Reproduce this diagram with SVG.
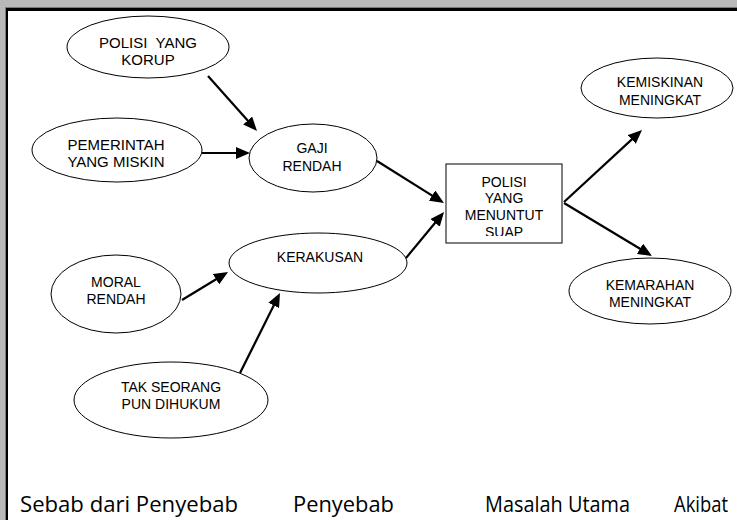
<svg xmlns="http://www.w3.org/2000/svg" width="737" height="520" viewBox="0 0 737 520">
<style>
.n ellipse, .n rect { fill: #fff; stroke: #000; stroke-width: 1; }
.t { font-family: "Liberation Sans", Arial, sans-serif; font-size: 14px; fill: #000; text-anchor: middle; }
.t15 { font-size: 15px; }
.c line { stroke: #000; stroke-width: 2.2; marker-end: url(#ah); }
.lbl { font-family: "Open Sans", "DejaVu Sans", sans-serif; font-size: 21px; fill: #000; }
</style>
<defs>
<marker id="ah" markerUnits="userSpaceOnUse" markerWidth="14" markerHeight="12" viewBox="0 0 14 12" refX="2" refY="6" orient="auto">
<path d="M0,0 L14,6 L0,12 z" fill="#000"/>
</marker>
<clipPath id="boxclip"><rect x="447" y="165" width="114" height="71"/></clipPath>
</defs>
<rect x="0" y="0" width="737" height="520" fill="#b9b9b9"/>
<rect x="5" y="7" width="732" height="513" fill="#7a7a7a"/>
<rect x="6" y="8" width="731" height="512" fill="#000"/>
<rect x="8" y="11" width="729" height="509" fill="#fff"/>

<g id="polisi-korup" class="n">
<ellipse cx="148" cy="47" rx="81" ry="31"/>
<text class="t t15" x="148" y="48" xml:space="preserve">POLISI  YANG</text>
<text class="t t15" x="148" y="65">KORUP</text>
</g>
<g id="pemerintah" class="n">
<ellipse cx="117" cy="150" rx="85" ry="32"/>
<text class="t t15" x="116" y="150">PEMERINTAH</text>
<text class="t t15" x="116" y="167">YANG MISKIN</text>
</g>
<g id="gaji" class="n">
<ellipse cx="313" cy="158" rx="64" ry="34"/>
<text class="t" x="312" y="153">GAJI</text>
<text class="t" x="312" y="171">RENDAH</text>
</g>
<g id="kerakusan" class="n">
<ellipse cx="318" cy="263" rx="89" ry="30"/>
<text class="t" x="320" y="262">KERAKUSAN</text>
</g>
<g id="moral" class="n">
<ellipse cx="116" cy="294" rx="65" ry="39"/>
<text class="t" x="116" y="287">MORAL</text>
<text class="t" x="116" y="304">RENDAH</text>
</g>
<g id="tak-seorang" class="n">
<ellipse cx="171" cy="400" rx="97" ry="38"/>
<text class="t" x="171" y="392">TAK SEORANG</text>
<text class="t" x="171" y="409">PUN DIHUKUM</text>
</g>
<g id="masalah" class="n">
<rect x="446" y="164" width="116" height="79"/>
<g clip-path="url(#boxclip)">
<text class="t" x="504" y="187">POLISI</text>
<text class="t" x="504" y="203">YANG</text>
<text class="t" x="504" y="220">MENUNTUT</text>
<text class="t" x="504" y="237">SUAP</text>
</g>
</g>
<g id="kemiskinan" class="n">
<ellipse cx="657" cy="88" rx="76" ry="30"/>
<text class="t" x="660" y="87">KEMISKINAN</text>
<text class="t" x="660" y="105">MENINGKAT</text>
</g>
<g id="kemarahan" class="n">
<ellipse cx="650" cy="291" rx="81" ry="33"/>
<text class="t" x="650" y="290">KEMARAHAN</text>
<text class="t" x="650" y="307">MENINGKAT</text>
</g>

<g id="connectors" class="c">
<line x1="208" y1="76" x2="249" y2="122"/>
<line x1="202" y1="153" x2="238" y2="153"/>
<line x1="377" y1="161" x2="433.8" y2="196.6"/>
<line x1="406" y1="258" x2="436.4" y2="221.3"/>
<line x1="182" y1="300" x2="217.8" y2="278.2"/>
<line x1="240" y1="373" x2="274.6" y2="303.7"/>
<line x1="564" y1="202" x2="633.2" y2="138.1"/>
<line x1="564" y1="203" x2="641.7" y2="249.8"/>
</g>

<g id="labels">
<text class="lbl" x="20" y="512" textLength="218" lengthAdjust="spacingAndGlyphs">Sebab dari Penyebab</text>
<text class="lbl" x="293" y="512" textLength="101" lengthAdjust="spacingAndGlyphs">Penyebab</text>
<text class="lbl" x="485" y="512" textLength="145" lengthAdjust="spacingAndGlyphs">Masalah Utama</text>
<text class="lbl" x="674" y="512" textLength="54" lengthAdjust="spacingAndGlyphs">Akibat</text>
</g>
</svg>
